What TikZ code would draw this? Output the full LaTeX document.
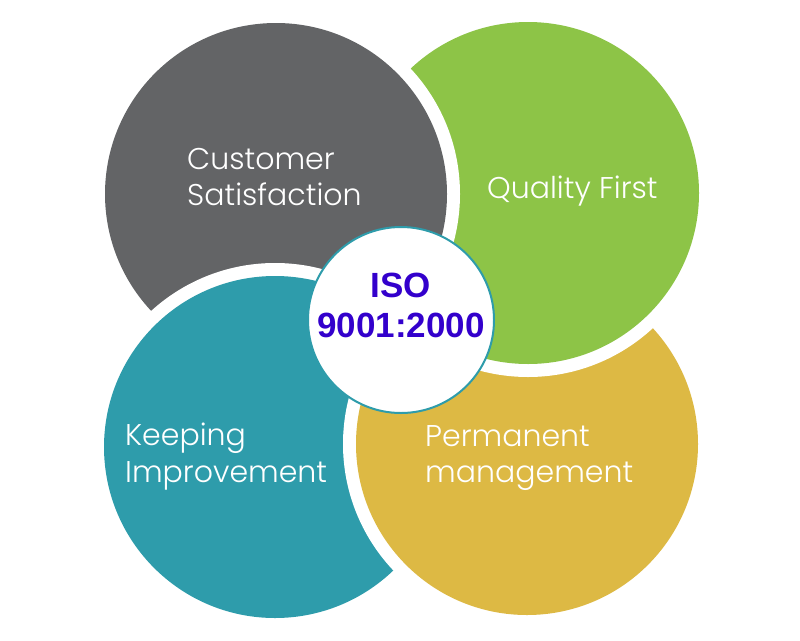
\documentclass[tikz,border=0pt]{standalone}
\usepackage{fontspec}
\setmainfont{Poppins}[UprightFont={* Light}]
\newfontfamily\isofont{Liberation Sans}
\definecolor{cgray}{HTML}{636466}
\definecolor{cgreen}{HTML}{8DC447}
\definecolor{cteal}{HTML}{2E9CAB}
\definecolor{cyellow}{HTML}{DDB944}
\definecolor{cblue}{HTML}{3300CC}
\tikzset{
  lbl/.style={anchor=base west, text=white, inner sep=0pt, font=\fontsize{30}{30}\selectfont},
  hub/.style={circle, fill=white, draw=cteal, line width=2pt, minimum size=186pt, inner sep=0pt},
  isotxt/.style={text=cblue, font=\isofont\bfseries\fontsize{35}{40}\selectfont, align=center}
}
\newcommand\mydisc[2]{\fill[white] (#1) circle[radius=184]; \fill[#2] (#1) circle[radius=171];}
\begin{document}
\begin{tikzpicture}[x=1pt,y=-1pt]
\useasboundingbox (0,0) rectangle (800,640);
\fill[white] (0,0) rectangle (800,640);
\coordinate (cg) at (276,194);
\coordinate (ct) at (275,447);
\coordinate (cy) at (527,444);
\coordinate (cq) at (528,193);
\mydisc{cg}{cgray}
\mydisc{ct}{cteal}
\mydisc{cy}{cyellow}
\mydisc{cq}{cgreen}
\begin{scope}
  \clip (340,0) rectangle (800,270);
  \mydisc{cg}{cgray}
\end{scope}
\node[lbl] (t1a) at (187,169) {Customer};
\node[lbl] (t1b) at (187,205) {Satisfaction};
\node[lbl] (t2) at (487,198) {Quality First};
\node[lbl] (t3a) at (125,445) {Keeping};
\node[lbl] (t3b) at (125,482) {Improvement};
\node[lbl] (t4a) at (425,446) {Permanent};
\node[lbl] (t4b) at (425,482) {management};
\node[hub] (hub) at (401,320) {};
\node[isotxt, anchor=base] (iso1) at (401,297) {ISO};
\node[isotxt, anchor=base] (iso2) at (401,337) {9001:2000};
\end{tikzpicture}
\end{document}
